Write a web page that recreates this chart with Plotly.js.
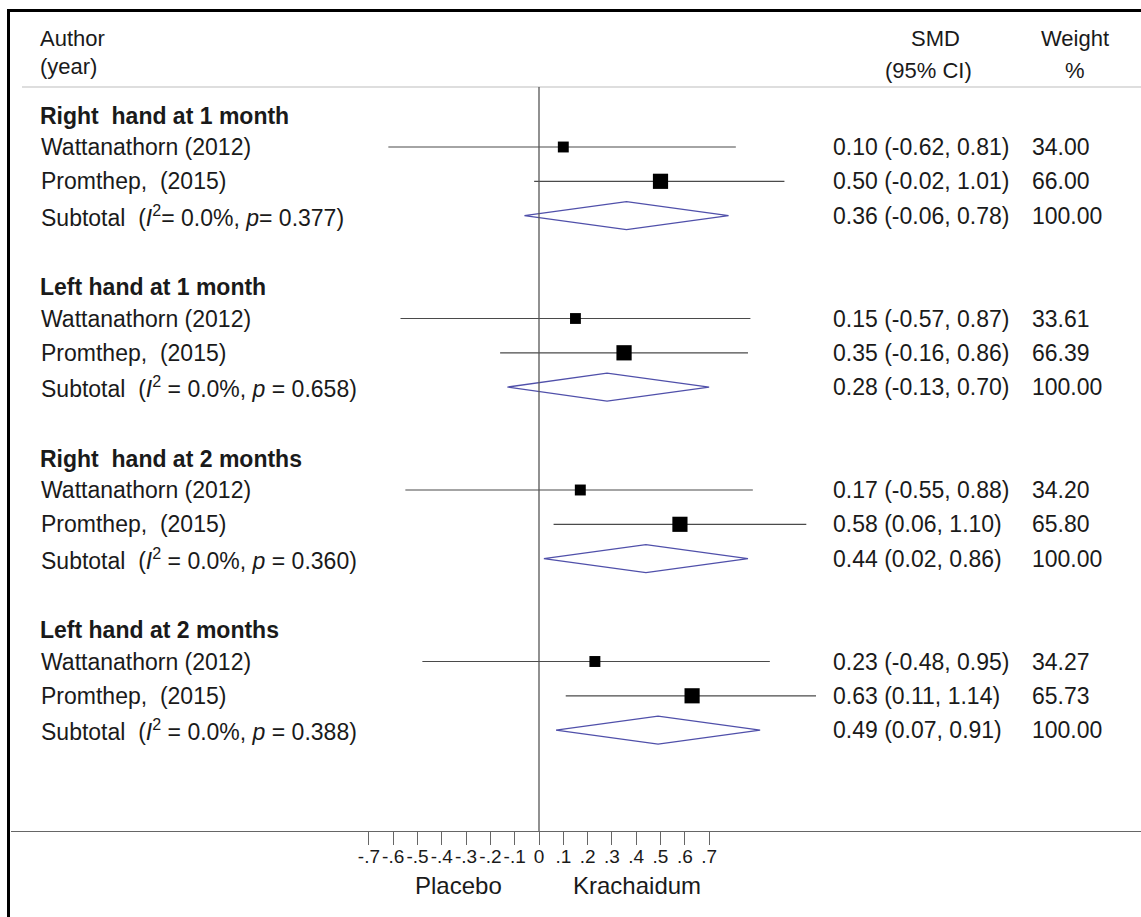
<!DOCTYPE html>
<html>
<head>
<meta charset="utf-8">
<script src="https://cdn.plot.ly/plotly-3.0.1.min.js"></script>
<style>
  html, body { margin: 0; padding: 0; background: #fff; }
  #chart { width: 1141px; height: 917px; }
</style>
</head>
<body>
<div id="chart"></div>
<script>
// ---------------- DATA ----------------
const groups = ["Right\u00a0 hand at 1 month", "Left hand at 1 month", "Right\u00a0 hand at 2 months", "Left hand at 2 months"];
const studies = ["Wattanathorn (2012)", "Promthep,\u00a0 (2015)"];
// per group: [Wattanathorn, Promthep]
const smd    = [[0.10, 0.50], [0.15, 0.35], [0.17, 0.58], [0.23, 0.63]];
const lower  = [[-0.62, -0.02], [-0.57, -0.16], [-0.55, 0.06], [-0.48, 0.11]];
const upper  = [[0.81, 1.01], [0.87, 0.86], [0.88, 1.10], [0.95, 1.14]];
const weight = [[34.00, 66.00], [33.61, 66.39], [34.20, 65.80], [34.27, 65.73]];
// subtotals
const subSmd = [0.36, 0.28, 0.44, 0.49];
const subLo  = [-0.06, -0.13, 0.02, 0.07];
const subHi  = [0.78, 0.70, 0.86, 0.91];
const subI2  = ["0.0%", "0.0%", "0.0%", "0.0%"];
const subP   = ["0.377", "0.658", "0.360", "0.388"];
const subW   = [100.00, 100.00, 100.00, 100.00];
// axis ticks
const tickVals = [-0.7, -0.6, -0.5, -0.4, -0.3, -0.2, -0.1, 0, 0.1, 0.2, 0.3, 0.4, 0.5, 0.6, 0.7];
const tickText = ["-.7", "-.6", "-.5", "-.4", "-.3", "-.2", "-.1", "0", ".1", ".2", ".3", ".4", ".5", ".6", ".7"];
const sideLabels = ["Placebo", "Krachaidum"];

// ---------------- LAYOUT HELPERS ----------------
const W = 1141, H = 917, ML = 11, MB = 86;
const plotH = H - MB, plotW = W - ML;
const px = x => (x - ML) / plotW;          // pixel x -> paper x
const py = y => (plotH - y) / plotH;       // pixel y -> paper y
const ROW0 = 112.7, ROWH = 34.3;
const yRange = [(plotH - ROW0) / ROWH, (0 - ROW0) / ROWH];
const xRange = [-(539 - ML) / 243, (W - 539) / 243];
const FONT = "'Liberation Sans', Arial, Helvetica, sans-serif";
const TXT = "#1a1a1a";
const fmt = v => v.toFixed(2);

// ---------------- TRACES ----------------
const sx = [], sy = [], eplus = [], eminus = [], msize = [];
const annotations = [];
const dx = [], dy = [];

function addText(text, x, yrow, opts) {
  annotations.push(Object.assign({
    text: text, xref: "paper", x: px(x), yref: "y", y: yrow,
    xanchor: "left", yanchor: "middle", showarrow: false,
    font: { family: FONT, size: 23, color: TXT }
  }, opts || {}));
}

groups.forEach((g, gi) => {
  const base = gi * 5;
  addText("<b>" + g + "</b>", 38, base, { yshift: -3, font: { family: FONT, size: 23, color: TXT } });
  studies.forEach((s, si) => {
    const r = base + 1 + si;
    sx.push(smd[gi][si]); sy.push(r);
    eplus.push(upper[gi][si] - smd[gi][si]);
    eminus.push(smd[gi][si] - lower[gi][si]);
    msize.push(1.87 * Math.sqrt(weight[gi][si]));
    addText(s, 39, r);
    addText(fmt(smd[gi][si]) + " (" + fmt(lower[gi][si]) + ", " + fmt(upper[gi][si]) + ")", 831, r);
    addText(fmt(weight[gi][si]), 1030, r);
  });
  const rs = base + 3;
  const eq = gi === 0 ? "= " : " = ";
  addText("Subtotal\u00a0 (<i>I</i><sup>2</sup>" + eq + subI2[gi] + ", <i>p</i>" + eq + subP[gi] + ")", 39, rs);
  addText(fmt(subSmd[gi]) + " (" + fmt(subLo[gi]) + ", " + fmt(subHi[gi]) + ")", 831, rs);
  addText(fmt(subW[gi]), 1030, rs);
  const hh = 14 / ROWH;
  dx.push(subLo[gi], subSmd[gi], subHi[gi], subSmd[gi], subLo[gi], null);
  dy.push(rs, rs - hh, rs, rs + hh, rs, null);
});

// headers
const hdr = (t, x, y, anchor) => annotations.push({
  text: t, xref: "paper", x: px(x), yref: "paper", y: py(y),
  xanchor: anchor, yanchor: "middle", showarrow: false,
  font: { family: FONT, size: 22, color: TXT }
});
hdr("Author", 38, 38, "left");
hdr("(year)", 38, 66, "left");
hdr("SMD", 935, 38, "center");
hdr("(95% CI)", 928, 70, "center");
hdr("Weight", 1075, 38, "center");
hdr("%", 1075, 70, "center");

// side labels under axis
const sidePos = [-0.333, 0.403];
sideLabels.forEach((t, i) => annotations.push({
  text: t, xref: "x", x: sidePos[i], yref: "paper", y: py(885),
  xanchor: "center", yanchor: "middle", showarrow: false,
  font: { family: FONT, size: 24, color: TXT }
}));

const traces = [
  {
    type: "scatter", mode: "lines", x: dx, y: dy,
    line: { color: "#5050aa", width: 1.3 }, hoverinfo: "skip", showlegend: false
  },
  {
    type: "scatter", mode: "markers", x: sx, y: sy,
    marker: { symbol: "square", size: msize, color: "#000000", opacity: 1, line: { width: 0 } },
    error_x: { type: "data", symmetric: false, array: eplus, arrayminus: eminus,
               width: 0, thickness: 1.2, color: "#4a4a4a" },
    showlegend: false
  }
];

const shapes = [
  // frame (top, left)
  { type: "line", xref: "paper", yref: "paper", x0: px(7), x1: px(W + 2), y0: py(10.5), y1: py(10.5),
    line: { color: "#000", width: 3 } },
  { type: "line", xref: "paper", yref: "paper", x0: px(8.5), x1: px(8.5), y0: py(9), y1: py(H + 2),
    line: { color: "#000", width: 3 } },
  // header rule
  { type: "line", xref: "paper", yref: "paper", x0: px(22), x1: px(W + 2), y0: py(87), y1: py(87),
    line: { color: "#bdbdbd", width: 1 } },
  // null line
  { type: "line", xref: "x", yref: "paper", x0: 0, x1: 0, y0: py(87), y1: 0,
    line: { color: "#555", width: 1.3 } }
];

const layout = {
  width: W, height: H,
  margin: { l: ML, r: 0, t: 0, b: MB, pad: 0 },
  paper_bgcolor: "#fff", plot_bgcolor: "rgba(0,0,0,0)",
  showlegend: false,
  xaxis: {
    range: xRange, showgrid: false, zeroline: false,
    showline: true, linecolor: "#666", linewidth: 1.3,
    ticks: "outside", ticklen: 13, tickwidth: 1, tickcolor: "#666",
    tickmode: "array", tickvals: tickVals, ticktext: tickText, tickangle: 0,
    ticklabelstandoff: -5,
    tickfont: { family: FONT, size: 19, color: TXT }, fixedrange: true
  },
  yaxis: { range: yRange, visible: false, showgrid: false, zeroline: false, fixedrange: true },
  annotations: annotations,
  shapes: shapes
};

Plotly.newPlot("chart", traces, layout, { displayModeBar: false, staticPlot: true });
</script>
</body>
</html>
